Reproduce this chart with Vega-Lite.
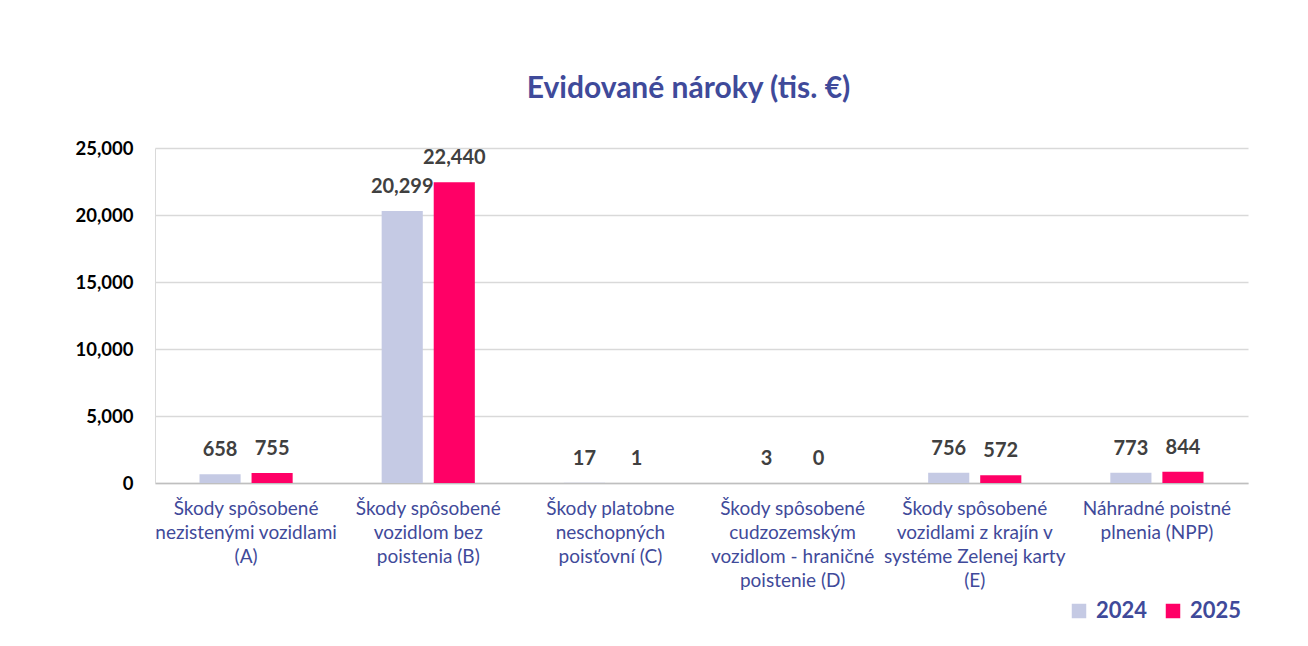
{
  "$schema": "https://vega.github.io/schema/vega-lite/v6.json",
  "autosize": {"type": "none"},
  "width": 1093,
  "height": 335,
  "padding": {"left": 155, "top": 148, "right": 60, "bottom": 163},
  "background": "white",
  "title": {
    "text": "Evidované nároky (tis. €)",
    "font": "Lato",
    "fontSize": 30,
    "fontWeight": "bold",
    "color": "#3F4A9A",
    "anchor": "middle",
    "dx": -13,
    "offset": 35
  },
  "config": {
    "view": {"stroke": null},
    "font": "Lato"
  },
  "data": {
    "values": [
      {"kategoria": "Škody spôsobené|nezistenými vozidlami|(A)", "poradie": 1, "rok": "2024", "hodnota": 658},
      {"kategoria": "Škody spôsobené|nezistenými vozidlami|(A)", "poradie": 1, "rok": "2025", "hodnota": 755},
      {"kategoria": "Škody spôsobené|vozidlom bez|poistenia (B)", "poradie": 2, "rok": "2024", "hodnota": 20299},
      {"kategoria": "Škody spôsobené|vozidlom bez|poistenia (B)", "poradie": 2, "rok": "2025", "hodnota": 22440},
      {"kategoria": "Škody platobne|neschopných|poisťovní (C)", "poradie": 3, "rok": "2024", "hodnota": 17},
      {"kategoria": "Škody platobne|neschopných|poisťovní (C)", "poradie": 3, "rok": "2025", "hodnota": 1},
      {"kategoria": "Škody spôsobené|cudzozemským|vozidlom - hraničné|poistenie (D)", "poradie": 4, "rok": "2024", "hodnota": 3},
      {"kategoria": "Škody spôsobené|cudzozemským|vozidlom - hraničné|poistenie (D)", "poradie": 4, "rok": "2025", "hodnota": 0},
      {"kategoria": "Škody spôsobené|vozidlami z krajín v|systéme Zelenej karty|(E)", "poradie": 5, "rok": "2024", "hodnota": 756},
      {"kategoria": "Škody spôsobené|vozidlami z krajín v|systéme Zelenej karty|(E)", "poradie": 5, "rok": "2025", "hodnota": 572},
      {"kategoria": "Náhradné poistné|plnenia (NPP)", "poradie": 6, "rok": "2024", "hodnota": 773},
      {"kategoria": "Náhradné poistné|plnenia (NPP)", "poradie": 6, "rok": "2025", "hodnota": 844}
    ]
  },
  "encoding": {
    "x": {
      "field": "kategoria",
      "type": "nominal",
      "sort": {"field": "poradie"},
      "scale": {"paddingInner": 0, "paddingOuter": 0},
      "axis": {
        "title": null,
        "labelAngle": 0,
        "labelExpr": "split(datum.label, '|')",
        "labelFont": "Lato",
        "labelFontSize": 19,
        "labelColor": "#3F4A9A",
        "labelLineHeight": 24,
        "labelPadding": 16,
        "labelBaseline": "top",
        "ticks": false,
        "domainColor": "#BFBFBF",
        "domainWidth": 1.5,
        "labelLimit": 300
      }
    },
    "xOffset": {
      "field": "rok",
      "type": "nominal",
      "scale": {"paddingInner": 0.21, "paddingOuter": 0.855}
    },
    "y": {
      "field": "hodnota",
      "type": "quantitative",
      "scale": {"domain": [0, 25000]},
      "axis": {
        "title": null,
        "values": [0, 5000, 10000, 15000, 20000, 25000],
        "format": ",d",
        "labelFont": "Lato",
        "labelFontSize": 18.5,
        "labelFontWeight": "bold",
        "labelColor": "#000000",
        "labelPadding": 22,
        "ticks": false,
        "domain": true,
        "domainColor": "#D9D9D9",
        "gridColor": "#D9D9D9",
        "gridWidth": 1.5
      }
    }
  },
  "layer": [
    {
      "mark": {"type": "bar"},
      "encoding": {
        "color": {
          "field": "rok",
          "type": "nominal",
          "scale": {"domain": ["2024", "2025"], "range": ["#C5CAE4", "#FF0066"]},
          "legend": {
            "title": null,
            "orient": "none",
            "direction": "horizontal",
            "legendX": 913,
            "legendY": 452,
            "symbolType": "square",
            "symbolSize": 210,
            "symbolStrokeWidth": 0,
            "labelFont": "Lato",
            "labelFontSize": 22,
            "labelFontWeight": "bold",
            "labelColor": "#3F4A9A",
            "columnPadding": 14,
            "labelOffset": 6
          }
        }
      }
    },
    {
      "mark": {
        "type": "text",
        "baseline": "middle",
        "dy": -24,
        "font": "Lato",
        "fontSize": 20,
        "fontWeight": "bold",
        "color": "#404040"
      },
      "encoding": {
        "text": {"field": "hodnota", "type": "quantitative", "format": ",d"}
      }
    }
  ]
}
